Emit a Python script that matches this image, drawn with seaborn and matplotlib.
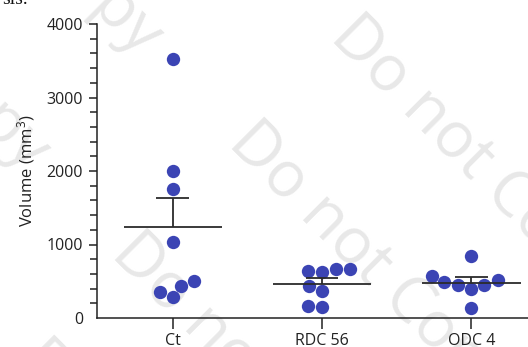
import numpy as np
import pandas as pd
import matplotlib
matplotlib.use("Agg")
import matplotlib.pyplot as plt
from matplotlib.ticker import MultipleLocator
import seaborn as sns

groups = ["Ct", "RDC 56", "ODC 4"]
ct_volume = [3530, 2000, 1750, 1040, 440, 290, 355, 500]
rdc56_volume = [660, 620, 640, 660, 370, 430, 150, 165]
odc4_volume = [850, 490, 455, 565, 390, 455, 515, 140]
y_ticks = [0, 1000, 2000, 3000, 4000]
y_label = "Volume (mm$^3$)"
watermark = "Do not Copy"

DOT_COLOR = "#3b44b4"
LINE_COLOR = "#2b2b2b"
MARK_COLOR = "#e8e8e8"

sns.set_style("ticks")
plt.rcParams["font.family"] = ["Open Sans", "DejaVu Sans"]
plt.rcParams["mathtext.default"] = "regular"

df = pd.DataFrame({
    "group": np.repeat(groups, [len(ct_volume), len(rdc56_volume), len(odc4_volume)]),
    "volume": ct_volume + rdc56_volume + odc4_volume,
})

W, H = 528, 347
fig = plt.figure(figsize=(W / 100, H / 100), dpi=100)

# watermark behind everything (pixel anchors, baseline of the text)
def px(x, y):
    return x / W, 1 - y / H

for x, y, ha in [(329, 38, "left"), (227, 144, "left"), (140, 57, "right"),
                 (110, 255, "left"), (27, 172, "right"), (17, 362, "left")]:
    fig.text(*px(x, y), watermark, rotation=-45, rotation_mode="anchor",
             ha=ha, va="baseline", fontsize=46, color=MARK_COLOR,
             family="Open Sans", zorder=-5)

fig.text(*px(2, 4), "sis.", fontsize=14, family="Liberation Serif",
         va="baseline", ha="left", color="#111")

ax = fig.add_axes([97 / W, 1 - 318 / H, (W - 97) / W, (318 - 24) / H])
ax.patch.set_alpha(0)

sns.swarmplot(data=df, x="group", y="volume", order=groups, color=DOT_COLOR,
              size=9.6, linewidth=0, ax=ax, zorder=3)

# mean with upper SEM bar
for i, g in enumerate(groups):
    vals = df.loc[df["group"] == g, "volume"].to_numpy()
    m = vals.mean()
    sem = vals.std(ddof=1) / np.sqrt(len(vals))
    ax.hlines(m, i - 0.33, i + 0.33, color=LINE_COLOR, lw=1.3, zorder=4)
    ax.vlines(i, m, m + sem, color=LINE_COLOR, lw=1.3, zorder=4)
    ax.hlines(m + sem, i - 0.11, i + 0.11, color=LINE_COLOR, lw=1.3, zorder=4)

ax.set_xlim(-0.508, 2.38)
ax.set_ylim(0, 4000)
ax.set_yticks(y_ticks)
ax.yaxis.set_minor_locator(MultipleLocator(200))
ax.yaxis.get_major_ticks()[0].tick1line.set_visible(False)

ax.set_xlabel("")
ax.set_ylabel(y_label, fontsize=12, color="#222", labelpad=7)
ax.tick_params(axis="y", which="major", length=6, width=1.1, pad=4,
               labelsize=11.5, colors="#222")
ax.tick_params(axis="y", which="minor", length=5, width=1.1, colors="#222")
ax.tick_params(axis="x", length=8, width=1.1, pad=3, labelsize=11.5, colors="#222")

for side in ["top", "right"]:
    ax.spines[side].set_visible(False)
for side in ["left", "bottom"]:
    ax.spines[side].set_linewidth(1.1)
    ax.spines[side].set_color("#222")

fig.savefig("out.png", dpi=100)
